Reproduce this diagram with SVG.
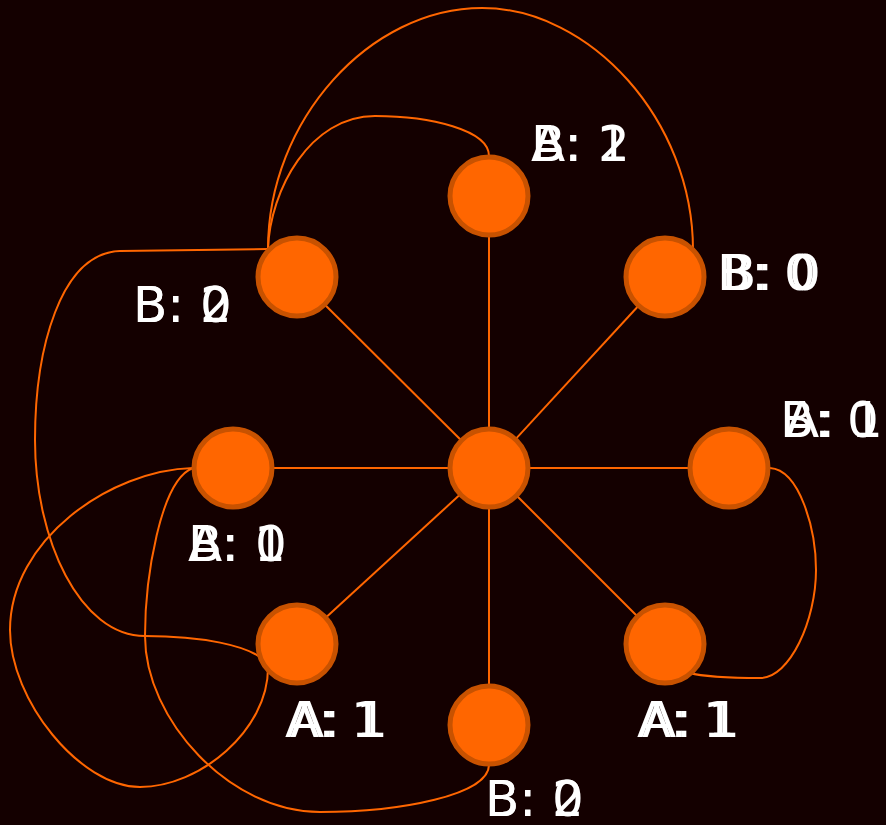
<svg xmlns="http://www.w3.org/2000/svg" width="886" height="825" viewBox="0 0 886 825">
<style>
.bg{fill:#140000}
.edge{fill:none;stroke:#ff6600;stroke-width:2}
.node{fill:#ff6600;stroke:#c85200;stroke-width:5}
.lbl{fill:#ffffff;font-family:"DejaVu Sans",sans-serif;font-size:50px}
</style>
<rect class="bg" x="0" y="0" width="886" height="825"/>
<g id="connectors">
<line class="edge" x1="489" y1="468" x2="489" y2="196"/>
<line class="edge" x1="489" y1="468" x2="665" y2="277"/>
<line class="edge" x1="489" y1="468" x2="729" y2="468"/>
<line class="edge" x1="489" y1="468" x2="665" y2="644"/>
<line class="edge" x1="489" y1="468" x2="489" y2="725"/>
<line class="edge" x1="489" y1="468" x2="297" y2="644"/>
<line class="edge" x1="489" y1="468" x2="233" y2="468"/>
<line class="edge" x1="489" y1="468" x2="297" y2="277"/>
<path class="edge" d="M489,156 C489,130 430,116 375,116 C310,116 270,190 268,249"/>
<path class="edge" d="M693,250 C693,120 590,8 482,8 C370,8 268,120 268,249"/>
<path class="edge" d="M268,249 L120,251 C60,253 35,350 35,440 C35,540 80,636 145,636 C200,636 250,645 266,662"/>
<path class="edge" d="M193,468 C110,470 10,540 10,630 C10,700 80,787 140,787 C200,787 268,730 268,668"/>
<path class="edge" d="M193,468 C160,480 145,580 145,636 C145,720 230,812 320,812 C400,812 489,795 489,765"/>
<path class="edge" d="M770,468 C800,470 816,530 816,570 C816,620 790,678 760,678 C730,678 700,676 690,673"/>
</g>
<g id="center"><circle class="node" cx="489" cy="468" r="39"/></g>
<g id="n-top"><circle class="node" cx="489" cy="196" r="39"/><text class="lbl" x="531" y="161">A: 1</text><text class="lbl" x="531" y="161">B: 2</text></g>
<g id="n-topright"><circle class="node" cx="665" cy="277" r="39"/><text class="lbl" x="717" y="290">B: 0</text><text class="lbl" x="722" y="290">B: 0</text></g>
<g id="n-right"><circle class="node" cx="729" cy="468" r="39"/><text class="lbl" x="780" y="437">B: 0</text><text class="lbl" x="785" y="437">A: 1</text></g>
<g id="n-bottomright"><circle class="node" cx="665" cy="644" r="39"/><text class="lbl" x="637" y="737">A: 1</text><text class="lbl" x="642" y="737">A: 1</text></g>
<g id="n-bottom"><circle class="node" cx="489" cy="725" r="39"/><text class="lbl" x="485" y="816">B: 0</text><text class="lbl" x="485" y="816">B: 2</text></g>
<g id="n-bottomleft"><circle class="node" cx="297" cy="644" r="39"/><text class="lbl" x="285" y="737">A: 1</text><text class="lbl" x="290" y="737">A: 1</text></g>
<g id="n-left"><circle class="node" cx="233" cy="468" r="39"/><text class="lbl" x="188" y="561">A: 1</text><text class="lbl" x="188" y="561">B: 0</text></g>
<g id="n-topleft"><circle class="node" cx="297" cy="277" r="39"/><text class="lbl" x="133" y="322">B: 0</text><text class="lbl" x="133" y="322">B: 2</text></g>
</svg>
